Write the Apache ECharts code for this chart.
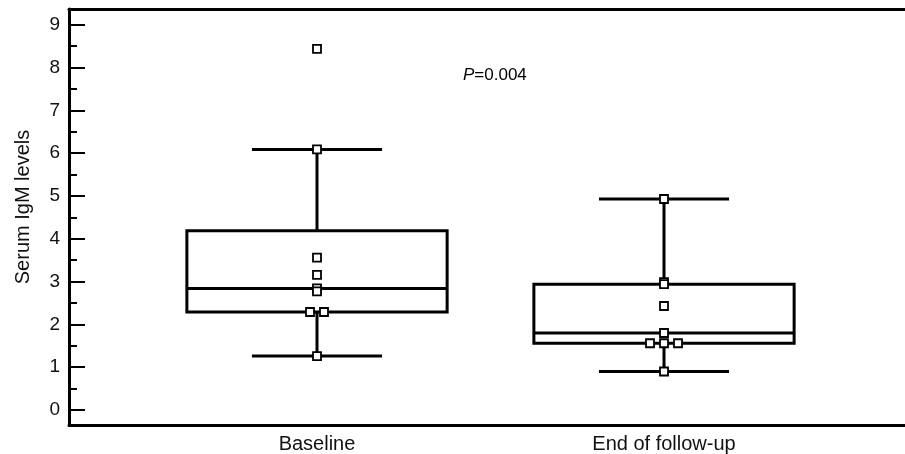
<!DOCTYPE html>
<html>
<head>
<meta charset="utf-8">
<script src="https://cdn.jsdelivr.net/npm/echarts@6/dist/echarts.min.js"></script>
<style>
html,body{margin:0;padding:0;background:#fff;}
#chart{width:905px;height:454px;}
</style>
</head>
<body>
<div id="chart"></div>
<script>
var categories = ['Baseline', 'End of follow-up'];
var lowWhisker = [1.26, 0.90];
var q1Values = [2.29, 1.56];
var medians = [2.84, 1.80];
var q3Values = [4.19, 2.94];
var highWhisker = [6.09, 4.93];
var baselinePoints = [8.44, 6.09, 3.56, 3.16, 2.84, 2.77, 2.29, 2.29, 1.26];
var followUpPoints = [4.93, 2.99, 2.94, 2.43, 1.80, 1.56, 1.56, 1.56, 0.90];
var yTicks = [0, 1, 2, 3, 4, 5, 6, 7, 8, 9];
var yMinorTicks = [0.5, 1.5, 2.5, 3.5, 4.5, 5.5, 6.5, 7.5, 8.5];
var pText = '0.004';

var FONT = '"Liberation Sans", Arial, sans-serif';
var boxWidth = 0.75, capWidth = 0.375;

// box data: [x, low, q1, median, q3, high]
var boxData = [];
for (var i = 0; i < categories.length; i++) {
	boxData.push([i + 1, lowWhisker[i], q1Values[i], medians[i], q3Values[i], highWhisker[i]]);
}

// points, tied values spread sideways
function buildPoints(vals, x) {
	var out = [];
	var counts = {};
	vals.forEach(function (v) { counts[v] = (counts[v] || 0) + 1; });
	var seen = {};
	vals.forEach(function (v) {
		var n = counts[v];
		var k = seen[v] || 0;
		seen[v] = k + 1;
		out.push({ value: [x, v], symbolOffset: [(k - (n - 1) / 2) * 14, 0] });
	});
	return out;
}
var pointData = buildPoints(baselinePoints, 1).concat(buildPoints(followUpPoints, 2));

function renderBox(params, api) {
	var x = api.value(0);
	var lo = api.coord([x, api.value(1)]);
	var q1 = api.coord([x, api.value(2)]);
	var med = api.coord([x, api.value(3)]);
	var q3 = api.coord([x, api.value(4)]);
	var hi = api.coord([x, api.value(5)]);
	var bw = api.size([boxWidth, 0])[0] / 2;
	var cw = api.size([capWidth, 0])[0] / 2;
	var cx = lo[0];
	var st = { stroke: '#000', lineWidth: 3, fill: null };
	function ln(x1, y1, x2, y2) {
		return { type: 'line', shape: { x1: x1, y1: y1, x2: x2, y2: y2 }, style: st };
	}
	return {
		type: 'group',
		children: [
			ln(cx, hi[1], cx, q3[1]),
			ln(cx, q1[1], cx, lo[1]),
			ln(cx - cw, hi[1], cx + cw, hi[1]),
			ln(cx - cw, lo[1], cx + cw, lo[1]),
			{ type: 'rect', shape: { x: cx - bw, y: q3[1], width: bw * 2, height: q1[1] - q3[1] }, style: { stroke: '#000', lineWidth: 3, fill: '#fff' } },
			ln(cx - bw, med[1], cx + bw, med[1])
		]
	};
}

var chart = echarts.init(document.getElementById('chart'));
chart.setOption({
	animation: false,
	title: {
		text: '{i|P}=' + pText,
		left: 463,
		top: 67,
		padding: 0,
		textStyle: {
			fontFamily: FONT, fontSize: 17, fontWeight: 'normal', color: '#000',
			rich: { i: { fontFamily: FONT, fontSize: 17, fontStyle: 'italic', color: '#000' } }
		}
	},
	grid: { left: 69, right: 0, top: 9, bottom: 29 },
	xAxis: [
		{
			type: 'value', min: 0.2853, max: 2.6945,
			axisLine: { show: true, onZero: false, lineStyle: { color: '#000', width: 3 } },
			axisTick: { show: false },
			splitLine: { show: false },
			axisLabel: {
				customValues: [1, 2],
				formatter: function (v) { return categories[Math.round(v) - 1] || ''; },
				fontFamily: FONT, fontSize: 20, color: '#111', margin: 9
			}
		},
		{
			type: 'value', position: 'top', min: 0.2853, max: 2.6945,
			axisLine: { show: true, onZero: false, lineStyle: { color: '#000', width: 3 } },
			axisTick: { show: false }, axisLabel: { show: false }, splitLine: { show: false }
		}
	],
	yAxis: [
		{
			type: 'value', min: -0.35, max: 9.37,
			name: 'Serum IgM levels', nameLocation: 'middle', nameGap: 36, nameRotate: 90,
			nameTextStyle: { fontFamily: FONT, fontSize: 20, color: '#111', padding: [0, 0, 0, 20] },
			axisLine: { show: true, onZero: false, lineStyle: { color: '#000', width: 3 } },
			axisTick: { show: true, inside: true, length: 16, customValues: yTicks, lineStyle: { color: '#000', width: 2 } },
			axisLabel: { customValues: yTicks, fontFamily: FONT, fontSize: 19, color: '#111', margin: 9 },
			splitLine: { show: false }
		},
		{
			type: 'value', min: -0.35, max: 9.37, position: 'left',
			axisLine: { show: false },
			axisTick: { show: true, inside: true, length: 8, customValues: yMinorTicks, lineStyle: { color: '#000', width: 2 } },
			axisLabel: { show: false },
			splitLine: { show: false }
		}
	],
	series: [
		{
			type: 'custom',
			renderItem: renderBox,
			data: boxData,
			encode: { x: 0, y: [1, 2, 3, 4, 5] },
			z: 2
		},
		{
			type: 'scatter',
			data: pointData,
			symbol: 'rect',
			symbolSize: 8,
			itemStyle: { color: '#fff', borderColor: '#000', borderWidth: 1.8, opacity: 1 },
			z: 3
		}
	]
});
</script>
</body>
</html>
